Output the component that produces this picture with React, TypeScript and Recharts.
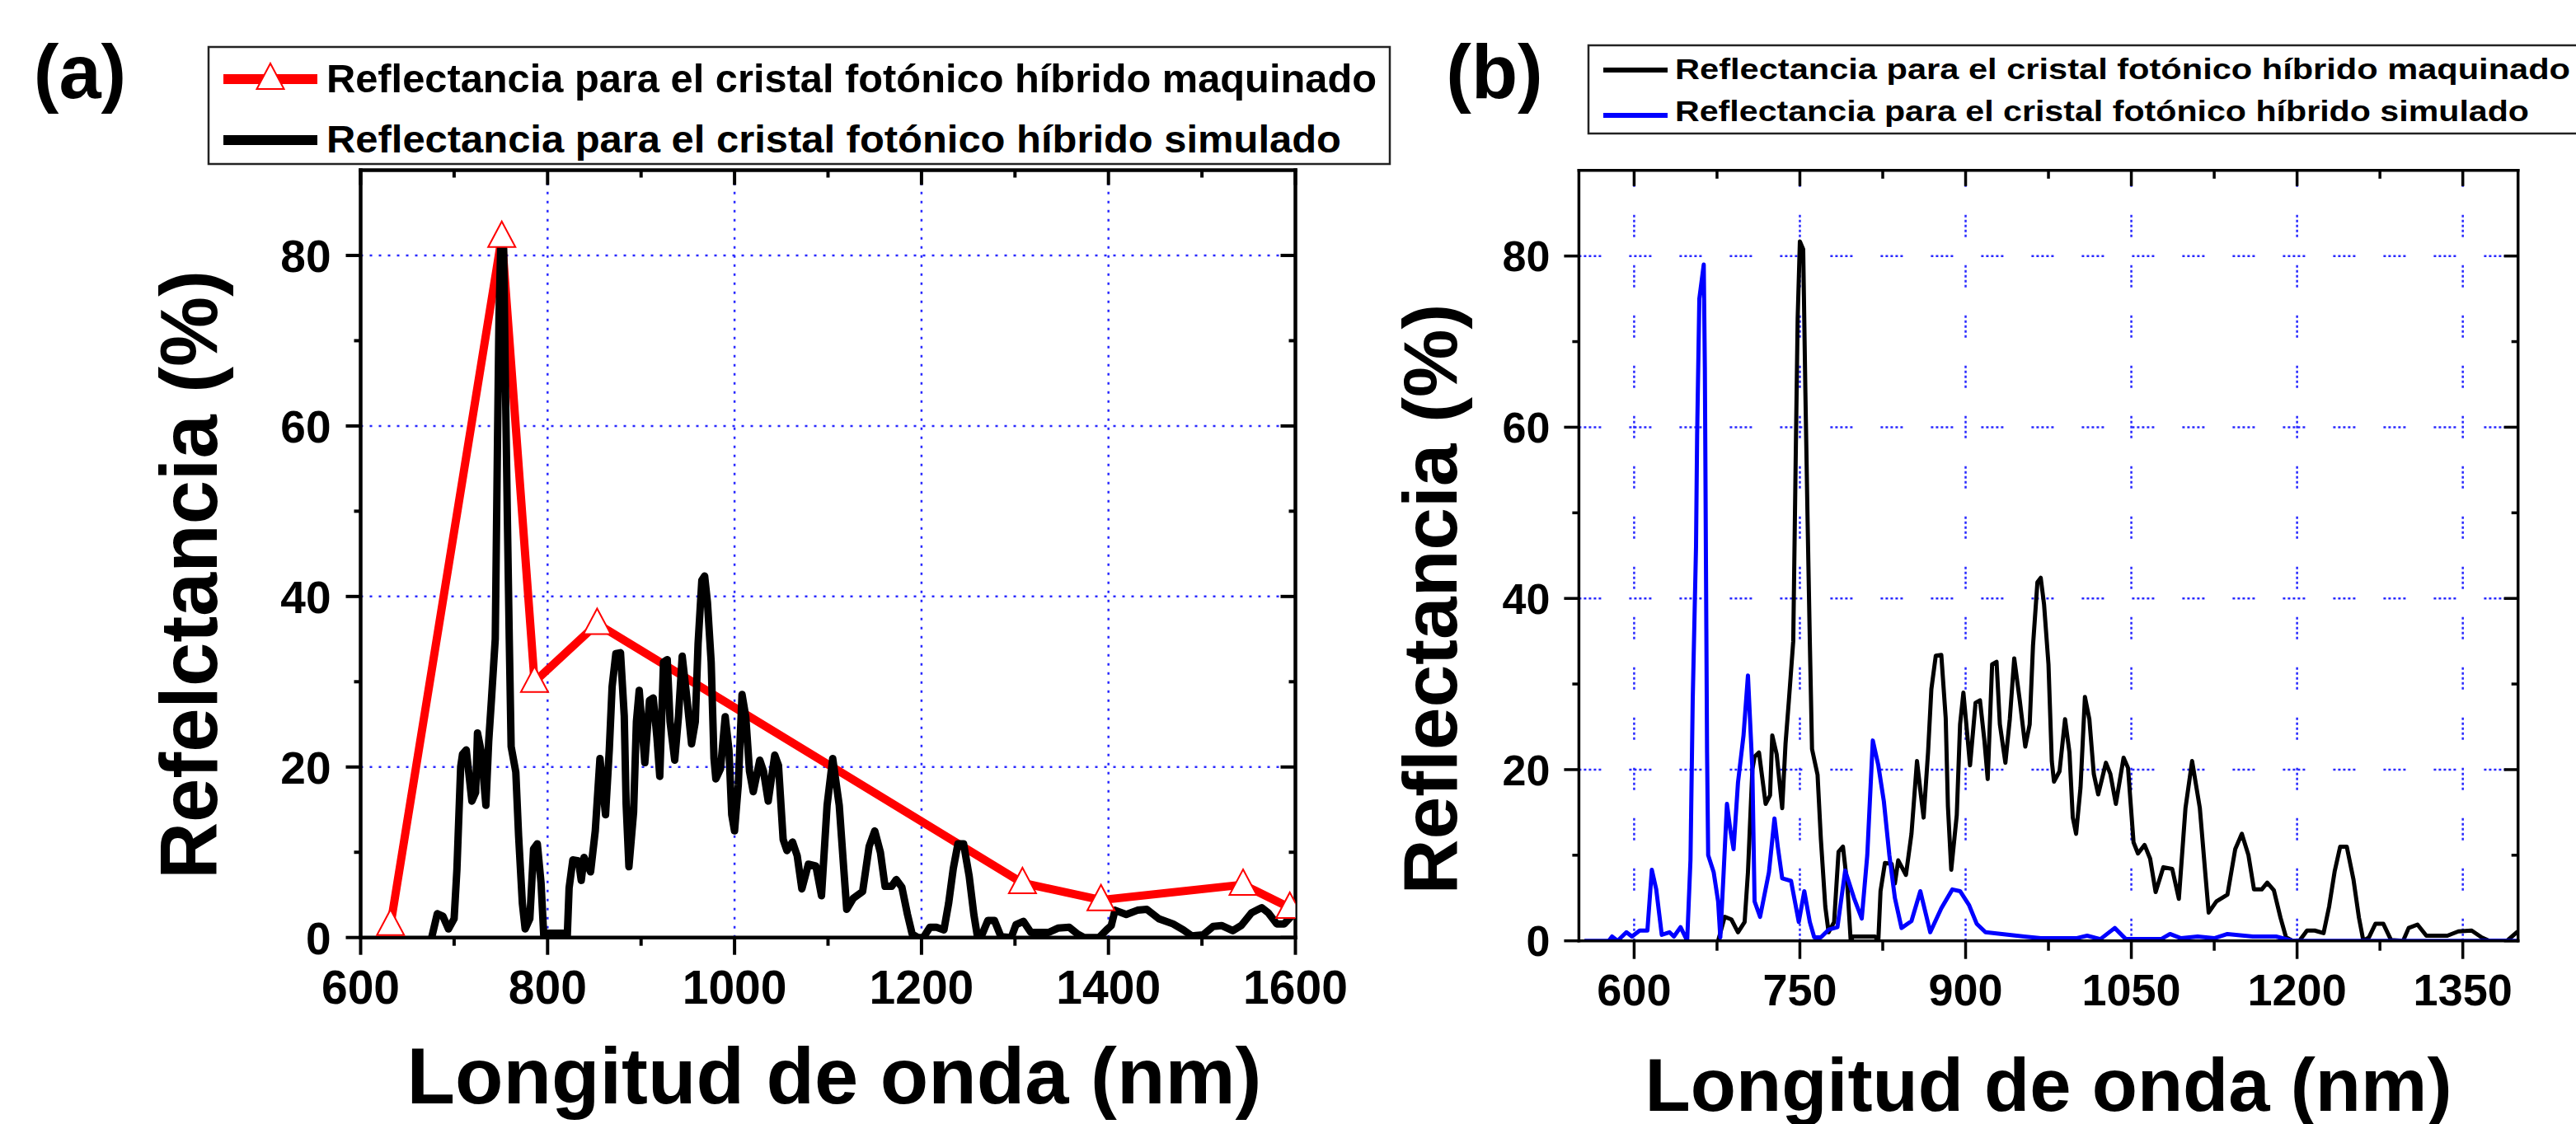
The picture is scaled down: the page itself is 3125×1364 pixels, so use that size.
import React from "react";
import { LineChart, Line, XAxis, YAxis, ReferenceLine } from "recharts";

const FONT = "'Liberation Sans', Arial, Helvetica, sans-serif";
const FONT_NARROW = "'Liberation Sans Narrow', 'Arial Narrow', 'Liberation Sans', Arial, sans-serif";

// triangulos rojos: cristal maquinado (panel a)
const maquinado: [number, number][] = [
  [632, 1.5], [751, 82.2], [786, 30], [853, 36.8],
  [1308, 6.4], [1392, 4.4], [1544, 6.2], [1594, 3.5],
];

// curva negra (simulado en a, maquinado en b)
const curvaNegra: [number, number][] = [
  [676, 0], [682, 2.8], [688, 2.5], [694, 1], [700, 2.2], [703, 8], [707, 20], [709, 21.5],
  [713, 22], [719, 16], [723, 17], [725, 24], [729, 21.8], [734, 15.5], [737, 23], [740, 28],
  [744, 35], [746.5, 59], [748, 72.7], [750, 81.7], [753, 80.8], [755, 64], [757, 49], [759, 35],
  [761, 22.4], [766, 19.4], [769, 11.9], [773, 4], [776, 1], [781, 2.2], [785, 10.4], [789, 11],
  [793, 6.4], [796, 0], [798, 0.5], [818, 0.5], [821, 0], [823, 5.8], [827, 9.1], [833, 9],
  [836, 6.7], [839, 9.4], [846, 7.7], [851, 12.5], [856, 21], [859, 17.6], [862, 14.4], [866, 22],
  [869, 29.4], [873, 33.3], [878, 33.4], [882, 26], [884, 15.7], [887, 8.3], [892, 14.7], [895, 25.3],
  [898, 29], [902, 23.4], [904, 20.5], [909, 27.8], [913, 28.1], [917, 23.4], [920, 18.9], [924, 32.3],
  [928, 32.6], [931, 25.3], [936, 20.8], [940, 25.9], [944, 33], [949, 28.1], [954, 22.7], [958, 25.3],
  [961, 34.5], [965, 41.9], [968, 42.4], [971, 39.3], [975, 32.3], [978, 21], [980, 18.6], [985, 19.8],
  [990, 25.9], [994, 22], [997, 14.4], [1000, 12.5], [1004, 17.9], [1008, 28.5], [1012, 25.9], [1016, 19.5],
  [1020, 17.1], [1027, 20.8], [1031, 19.5], [1036, 16], [1043, 21.4], [1047, 20.2], [1052, 11.5], [1056, 10.2],
  [1062, 11.2], [1067, 9.6], [1072, 5.7], [1079, 8.6], [1087, 8.4], [1093, 4.9], [1099, 15.5], [1105, 21],
  [1112, 15.5], [1117, 7.8], [1120, 3.3], [1127, 4.6], [1137, 5.4], [1144, 10.7], [1150, 12.5], [1156, 10],
  [1161, 6], [1168, 6], [1173, 6.8], [1179, 5.9], [1185, 2.7], [1190, 0.4], [1196, 0], [1202, 0],
  [1209, 1.2], [1216, 1.2], [1224, 0.9], [1229, 4], [1234, 8.1], [1239, 11], [1245, 11], [1251, 7.2],
  [1256, 2.7], [1260, 0], [1265, 0.4], [1271, 2], [1278, 2], [1285, 0.1], [1296, 0], [1301, 1.5],
  [1309, 1.9], [1317, 0.6], [1336, 0.6], [1346, 1.1], [1358, 1.2], [1367, 0.4], [1374, 0], [1390, 0],
  [1398, 0.9], [1403, 1.4], [1407, 3.2], [1419, 2.7], [1431, 3.2], [1441, 3.3], [1454, 2.2], [1469, 1.6],
  [1480, 0.9], [1489, 0.2], [1501, 0.3], [1512, 1.3], [1521, 1.4], [1533, 0.8], [1542, 1.4], [1553, 2.9],
  [1564, 3.5], [1571, 2.9], [1580, 1.6], [1588, 1.6], [1600, 3],
];

// curva azul: simulado (panel b)
const curvaAzul: [number, number][] = [
  [555, 0], [577, 0], [580, 0.5], [585, 0], [593, 1], [598, 0.5], [605, 1.2], [612, 1.2],
  [616, 8.3], [620, 6], [625, 0.7], [632, 1], [636, 0.5], [642, 1.6], [648, 0], [651, 9.5],
  [653, 28], [656, 46], [657, 59], [658, 67], [659, 75], [663, 79], [664, 67], [665, 44],
  [666, 22], [667, 10], [672, 8], [676, 4.6], [678, 0.4], [681, 8], [684, 16], [687, 13],
  [690, 10.7], [694, 18.5], [699, 24], [703, 31], [707, 20], [709, 4.6], [714, 2.8], [722, 8],
  [727, 14.3], [730, 11], [734, 7.3], [742, 7], [749, 2.2], [754, 5.8], [759, 2.2], [763, 0.4],
  [769, 0.4], [776, 1.3], [784, 1.6], [791, 8.2], [799, 5], [806, 2.6], [811, 10], [816, 23.4],
  [821, 20.5], [826, 16.3], [831, 10], [836, 5], [842, 1.5], [851, 2.3], [859, 5.8], [868, 1],
  [878, 3.8], [888, 6], [895, 5.8], [903, 4.2], [910, 2], [918, 1], [933, 0.8], [953, 0.5],
  [968, 0.3], [1000, 0.3], [1010, 0.6], [1022, 0.2], [1035, 1.5], [1045, 0.2], [1077, 0.2], [1085, 0.8],
  [1095, 0.3], [1110, 0.5], [1125, 0.3], [1137, 0.8], [1160, 0.5], [1181, 0.5], [1196, 0], [1400, 0],
];

const ticksXA = [600, 700, 800, 900, 1000, 1100, 1200, 1300, 1400, 1500, 1600];
const gridXA = [800, 1000, 1200, 1400];
const ticksXB = [600, 675, 750, 825, 900, 975, 1050, 1125, 1200, 1275, 1350];
const gridXB = [600, 750, 900, 1050, 1200, 1350];
const ticksY = [0, 10, 20, 30, 40, 50, 60, 70, 80];
const gridY = [20, 40, 60, 80];

const toRows = (pts: [number, number][]) => pts.map(([x, y]) => ({ x, y }));

type Side = "bottom" | "top" | "left" | "right";
interface TickCfg {
  side: Side;
  major: (v: number) => boolean;
  long: number;
  short: number;
  width: number;
  fontSize?: number;
  offset?: number;
}

const makeTick = (c: TickCfg) => (props: any) => {
  const { x, y, payload } = props;
  const v = payload.value as number;
  const isMajor = c.major(v);
  const len = isMajor ? c.long : c.short;
  const vertical = c.side === "bottom" || c.side === "top";
  const x2 = vertical ? x : x - len;
  const y2 = vertical ? y + len : y;
  let label = null;
  if (isMajor && c.fontSize) {
    if (c.side === "bottom") {
      label = (
        <text x={x} y={y + (c.offset || 0)} textAnchor="middle" fontFamily={FONT} fontWeight="bold" fontSize={c.fontSize} fill="#000">
          {v}
        </text>
      );
    } else if (c.side === "left") {
      label = (
        <text x={x - (c.offset || 0)} y={y + c.fontSize * 0.36} textAnchor="end" fontFamily={FONT} fontWeight="bold" fontSize={c.fontSize} fill="#000">
          {v}
        </text>
      );
    }
  }
  return (
    <g>
      <line x1={x} y1={y} x2={x2} y2={y2} stroke="#000" strokeWidth={c.width} />
      {label}
    </g>
  );
};

const TriangleDot = (props: any) => {
  const { cx, cy, index } = props;
  if (cx == null || cy == null) return <g key={`t-${index}`} />;
  const w = 33;
  const h = 31;
  const c = cy - 3;
  return (
    <path
      key={`t-${index}`}
      d={`M${cx},${c - h / 2} L${cx + w / 2},${c + h / 2} L${cx - w / 2},${c + h / 2} Z`}
      fill="#fff"
      stroke="#ff0000"
      strokeWidth={2}
    />
  );
};

const majorA = (v: number) => v % 200 === 0;
const majorB = (v: number) => (v - 600) % 150 === 0;
const majorY = (v: number) => v % 20 === 0;

const axisA = { stroke: "#000", strokeWidth: 4.5, strokeLinecap: "square" as const };
const axisB = { stroke: "#000", strokeWidth: 3.5, strokeLinecap: "square" as const };
const gridStyleA = { stroke: "#2828ff", strokeWidth: 2.5, strokeDasharray: "3 8" };
const gridStyleB = { stroke: "#2828ff", strokeWidth: 2.5, strokeDasharray: "3 3 3 3 3 3 3 3 3 34" };

// axes are 1px thick boxes so Recharts draws them; margins are reduced by that 1px
function PanelA() {
  return (
    <div style={{ position: "absolute", left: 0, top: 0 }}>
      <LineChart width={1720} height={1364} margin={{ top: 205.5, right: 147.5, bottom: 225.3, left: 436.5 }}>
        <XAxis type="number" dataKey="x" domain={[600, 1600]} ticks={ticksXA} interval={0} height={1}
          tickSize={0} tickMargin={0} tickLine={false} axisLine={axisA} allowDataOverflow
          tick={makeTick({ side: "bottom", major: majorA, long: 21, short: 10, width: 4, fontSize: 57, offset: 80 })} />
        <XAxis xAxisId="top" orientation="top" type="number" dataKey="x" domain={[600, 1600]} ticks={ticksXA}
          interval={0} height={1} tickSize={0} tickMargin={0} tickLine={false} axisLine={axisA} allowDataOverflow
          tick={makeTick({ side: "top", major: majorA, long: 18, short: 9, width: 4 })} />
        <YAxis type="number" domain={[0, 90]} ticks={ticksY} interval={0} width={1} tickSize={0} tickMargin={0}
          tickLine={false} axisLine={axisA} allowDataOverflow
          tick={makeTick({ side: "left", major: majorY, long: 18, short: 8, width: 4, fontSize: 55, offset: 36 })} />
        <YAxis yAxisId="right" orientation="right" type="number" domain={[0, 90]} ticks={ticksY} interval={0}
          width={1} tickSize={0} tickMargin={0} tickLine={false} axisLine={axisA} allowDataOverflow
          tick={makeTick({ side: "right", major: majorY, long: 18, short: 8, width: 4 })} />
        {gridXA.map((v) => <ReferenceLine key={`gx${v}`} x={v} {...gridStyleA} />)}
        {gridY.map((v) => <ReferenceLine key={`gy${v}`} y={v} {...gridStyleA} />)}
        <Line data={toRows(maquinado)} dataKey="y" type="linear" stroke="#ff0000" strokeWidth={10}
          dot={TriangleDot} activeDot={false} isAnimationActive={false} />
        <Line data={toRows(curvaNegra)} dataKey="y" type="linear" stroke="#000" strokeWidth={9}
          strokeLinejoin="round" dot={false} activeDot={false} isAnimationActive={false} />
      </LineChart>
    </div>
  );
}

function PanelB() {
  return (
    <div style={{ position: "absolute", left: 1720, top: 0 }}>
      <LineChart width={1405} height={1364} margin={{ top: 205.8, right: 69.3, bottom: 221.3, left: 194.4 }}>
        <XAxis type="number" dataKey="x" domain={[550, 1400]} ticks={ticksXB} interval={0} height={1}
          tickSize={0} tickMargin={0} tickLine={false} axisLine={axisB} allowDataOverflow
          tick={makeTick({ side: "bottom", major: majorB, long: 22, short: 12, width: 3.5, fontSize: 54, offset: 78 })} />
        <XAxis xAxisId="top" orientation="top" type="number" dataKey="x" domain={[550, 1400]} ticks={ticksXB}
          interval={0} height={1} tickSize={0} tickMargin={0} tickLine={false} axisLine={axisB} allowDataOverflow
          tick={makeTick({ side: "top", major: majorB, long: 19, short: 10, width: 3.5 })} />
        <YAxis type="number" domain={[0, 90]} ticks={ticksY} interval={0} width={1} tickSize={0} tickMargin={0}
          tickLine={false} axisLine={axisB} allowDataOverflow
          tick={makeTick({ side: "left", major: majorY, long: 18, short: 8, width: 3.5, fontSize: 52, offset: 35 })} />
        <YAxis yAxisId="right" orientation="right" type="number" domain={[0, 90]} ticks={ticksY} interval={0}
          width={1} tickSize={0} tickMargin={0} tickLine={false} axisLine={axisB} allowDataOverflow
          tick={makeTick({ side: "right", major: majorY, long: 17, short: 8, width: 3.5 })} />
        {gridXB.map((v) => <ReferenceLine key={`gx${v}`} x={v} {...gridStyleB} />)}
        {gridY.map((v) => <ReferenceLine key={`gy${v}`} y={v} {...gridStyleB} />)}
        <Line data={toRows(curvaNegra)} dataKey="y" type="linear" stroke="#000" strokeWidth={5}
          strokeLinejoin="round" dot={false} activeDot={false} isAnimationActive={false} />
        <Line data={toRows(curvaAzul)} dataKey="y" type="linear" stroke="#0000ff" strokeWidth={5}
          strokeLinejoin="round" dot={false} activeDot={false} isAnimationActive={false} />
      </LineChart>
    </div>
  );
}

function Overlay() {
  const bold = { fontFamily: FONT, fontWeight: "bold" as const, fill: "#000" };
  const legend = { fontFamily: FONT_NARROW, fontWeight: "bold" as const, fill: "#000" };
  return (
    <svg width={3125} height={1364} style={{ position: "absolute", left: 0, top: 0, pointerEvents: "none" }}>
      <text x={97} y={119} textAnchor="middle" fontSize={92} {...bold}>(a)</text>
      <text x={1813} y={119} textAnchor="middle" fontSize={92} {...bold}>(b)</text>

      {/* leyenda (a) */}
      <rect x={253} y={57} width={1433} height={142} fill="#fff" stroke="#222" strokeWidth={2.5} />
      <line x1={271} x2={385} y1={96} y2={96} stroke="#ff0000" strokeWidth={12} />
      <path d="M328,77 L344.5,108 L311.5,108 Z" fill="#fff" stroke="#ff0000" strokeWidth={2} />
      <text x={396} y={112} fontSize={48} textLength={1274} lengthAdjust="spacingAndGlyphs" {...legend}>
        Reflectancia para el cristal fotónico híbrido maquinado
      </text>
      <line x1={271} x2={385} y1={170} y2={170} stroke="#000" strokeWidth={12} />
      <text x={396} y={185} fontSize={46} textLength={1231} lengthAdjust="spacingAndGlyphs" {...legend}>
        Reflectancia para el cristal fotónico híbrido simulado
      </text>

      {/* leyenda (b) */}
      <rect x={1927} y={55} width={1240} height={107} fill="#fff" stroke="#222" strokeWidth={2.5} />
      <line x1={1945} x2={2023} y1={85} y2={85} stroke="#000" strokeWidth={6} />
      <text x={2032} y={96} fontSize={35} textLength={1086} lengthAdjust="spacingAndGlyphs" {...legend}>
        Reflectancia para el  cristal fotónico híbrido maquinado
      </text>
      <line x1={1945} x2={2023} y1={140} y2={140} stroke="#0000ff" strokeWidth={6} />
      <text x={2032} y={147} fontSize={35} textLength={1036} lengthAdjust="spacingAndGlyphs" {...legend}>
        Reflectancia para el cristal fotónico híbrido simulado
      </text>

      {/* titulos de ejes */}
      <text transform="translate(263,697.5) rotate(-90)" textAnchor="middle" fontSize={98}
        textLength={739} lengthAdjust="spacingAndGlyphs" {...bold}>Refelctancia (%)</text>
      <text x={1012} y={1339} textAnchor="middle" fontSize={96} textLength={1037}
        lengthAdjust="spacingAndGlyphs" {...bold}>Longitud de onda (nm)</text>
      <text transform="translate(1767,727) rotate(-90)" textAnchor="middle" fontSize={93}
        textLength={717} lengthAdjust="spacingAndGlyphs" {...bold}>Reflectancia (%)</text>
      <text x={2485} y={1348} textAnchor="middle" fontSize={91} textLength={979}
        lengthAdjust="spacingAndGlyphs" {...bold}>Longitud de onda (nm)</text>
    </svg>
  );
}

export default function App() {
  return (
    <div style={{ position: "absolute", left: 0, top: 0, width: 3125, height: 1364, background: "#fff" }}>
      <PanelA />
      <PanelB />
      <Overlay />
    </div>
  );
}
